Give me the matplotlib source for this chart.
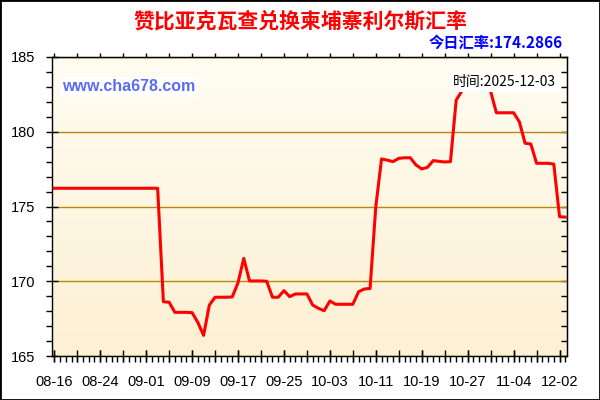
"""Zambian kwacha to Cambodian riel exchange rate chart."""

import matplotlib

matplotlib.use("Agg")

import matplotlib.pyplot as plt
import numpy as np
from matplotlib.colors import LinearSegmentedColormap
from matplotlib.patches import Rectangle
from matplotlib.ticker import FixedLocator, MultipleLocator

TITLE = "赞比亚克瓦查兑换柬埔寨利尔斯汇率"
TODAY_TEXT = "今日汇率:174.2866"
DATE_TEXT = "时间:2025-12-03"
WATERMARK = "www.cha678.com"

# one value per data point (index 0 = 08-16, index 89 = 12-03)
rates = [
    176.22, 176.22, 176.22, 176.22, 176.22, 176.22, 176.22, 176.22, 176.22, 176.22,
    176.22, 176.22, 176.22, 176.22, 176.22, 176.22, 176.22, 176.22, 176.22, 168.63,
    168.60, 167.92, 167.92, 167.92, 167.90, 167.25, 166.38, 168.40, 168.93, 168.93,
    168.93, 168.95, 169.90, 171.53, 170.02, 170.02, 170.02, 170.00, 168.93, 168.93,
    169.37, 168.97, 169.15, 169.15, 169.15, 168.41, 168.19, 168.03, 168.68, 168.46,
    168.46, 168.46, 168.46, 169.30, 169.48, 169.52, 175.00, 178.18, 178.10, 178.00,
    178.22, 178.26, 178.26, 177.78, 177.51, 177.62, 178.07, 178.02, 177.98, 178.00,
    182.12, 182.73, 183.20, 183.50, 183.40, 183.10, 182.70, 181.27, 181.27, 181.27,
    181.27, 180.67, 179.23, 179.18, 177.89, 177.89, 177.89, 177.84, 174.32, 174.29,
]
tick_positions = [0, 8, 16, 24, 32, 40, 48, 56, 64, 72, 80, 88]
tick_labels = [
    "08-16", "08-24", "09-01", "09-09", "09-17", "09-25",
    "10-03", "10-11", "10-19", "10-27", "11-04", "12-02",
]
y_ticks = [165, 170, 175, 180, 185]

GRID = "#b8860b"
LINE = "#ff0000"
CJK = ["Noto Sans CJK SC", "DejaVu Sans"]


def main() -> int:
    fig = plt.figure(figsize=(6, 4), dpi=100)
    fig.patch.set_facecolor("white")
    ax = fig.add_axes([52 / 600, 1 - 356 / 400, 515 / 600, 299 / 400])

    x0, x1 = -0.4, 89.3
    y0, y1 = 165, 185
    ax.set_xlim(x0, x1)
    ax.set_ylim(y0, y1)

    # soft cream gradient behind the plot
    cmap = LinearSegmentedColormap.from_list("cream", ["#fdf0d4", "#fffdf2"])
    grad = np.linspace(0, 1, 256).reshape(-1, 1)
    ax.imshow(grad, cmap=cmap, extent=[x0, x1, y0, y1], origin="lower",
              aspect="auto", zorder=0)

    for y in y_ticks:
        ax.axhline(y, color=GRID, linewidth=1.0, zorder=1)

    xs = np.arange(len(rates))
    ax.plot(xs, rates, color=LINE, linewidth=2.2, zorder=3)

    # ticks: bottom / left carry labels
    ax.xaxis.set_major_locator(FixedLocator(tick_positions))
    ax.set_xticklabels(tick_labels)
    ax.xaxis.set_minor_locator(MultipleLocator(1))
    ax.yaxis.set_major_locator(FixedLocator(y_ticks))
    ax.yaxis.set_minor_locator(MultipleLocator(1))
    ax.tick_params(axis="both", which="major", direction="inout", length=8,
                   width=1, labelsize=10.5, colors="black")
    ax.tick_params(axis="x", which="major", pad=10)
    ax.tick_params(axis="y", which="major", pad=8)
    ax.tick_params(axis="both", which="minor", direction="out", length=4, width=1)
    for lab in ax.get_xticklabels() + ax.get_yticklabels():
        lab.set_family("Liberation Sans")

    # extra major x ticks every 4 points (no labels)
    sec_b = ax.secondary_xaxis("bottom")
    sec_b.xaxis.set_major_locator(MultipleLocator(4))
    sec_b.tick_params(direction="inout", length=8, width=1, labelbottom=False)
    sec_b.spines["bottom"].set_visible(False)

    top = ax.secondary_xaxis("top")
    top.xaxis.set_major_locator(MultipleLocator(4))
    top.tick_params(direction="out", length=3, width=1, labeltop=False)

    right = ax.secondary_yaxis("right")
    right.yaxis.set_major_locator(MultipleLocator(1))
    right.tick_params(direction="in", length=4, width=1, labelright=False)

    for spine in ax.spines.values():
        spine.set_color("black")
        spine.set_linewidth(1.0)

    ax.text(0.02, 0.9, WATERMARK, transform=ax.transAxes, color="#5a6cf0",
            fontsize=11.5, fontweight="bold", family="Liberation Sans",
            va="center", ha="left", zorder=5,
            bbox=dict(facecolor="white", edgecolor="none", pad=2))
    ax.text(0.979, 0.917, DATE_TEXT, transform=ax.transAxes, color="black",
            fontsize=10, family=CJK, va="center", ha="right", zorder=5,
            bbox=dict(facecolor="white", edgecolor="none", pad=2.5))

    fig.text(0.5, 0.948, TITLE, color="red", fontsize=15, fontweight="bold",
             family=CJK, ha="center", va="center")
    fig.text(563 / 600, 1 - 43 / 400, TODAY_TEXT, color="#0000ff", fontsize=11,
             fontweight="bold", family=CJK, ha="right", va="center")

    fig.patches.append(Rectangle((0, 0), 1, 1, transform=fig.transFigure,
                                 fill=False, edgecolor="black", linewidth=2))

    fig.savefig("out.png", dpi=100)
    plt.close(fig)
    return 0


if __name__ == "__main__":
    raise SystemExit(main())
